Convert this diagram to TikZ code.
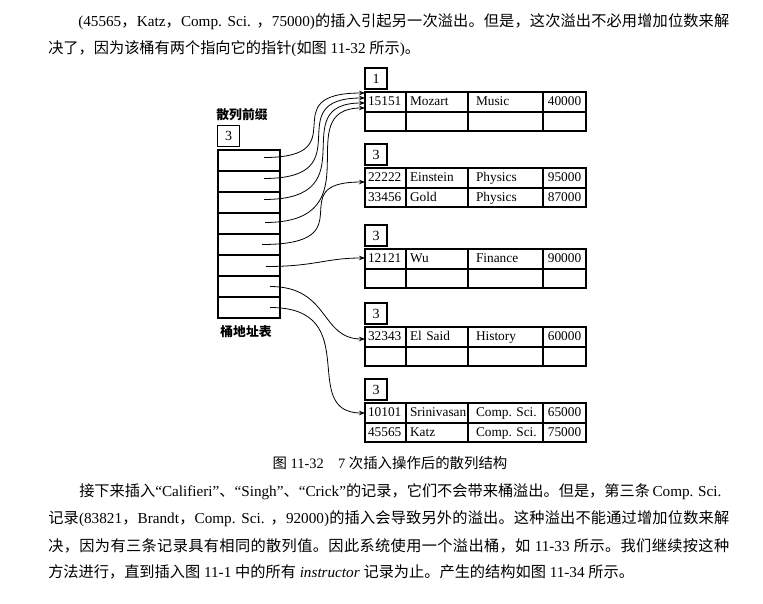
\documentclass[tikz,border=0pt]{standalone}
\usepackage{fontspec}
\setmainfont{Liberation Serif}
\newfontfamily\zhfont{Noto Sans CJK SC}
\newfontfamily\enfont{Liberation Serif}
\usetikzlibrary{
    arrows.meta,
    calc,
    positioning
}

% Chinese characters switch to their own font
\XeTeXinterchartokenstate=1
\newXeTeXintercharclass\zhclass
\count255="3000
\loop
    \XeTeXcharclass\count255=\zhclass
    \advance\count255 by 1
\ifnum\count255<"A000\repeat
\count255="FF00
\loop
    \XeTeXcharclass\count255=\zhclass
    \advance\count255 by 1
\ifnum\count255<"FFF0\repeat
\XeTeXinterchartoks 0 \zhclass={\hskip0pt plus 1pt\zhfont}
\XeTeXinterchartoks 4095 \zhclass={\zhfont}
\XeTeXinterchartoks \zhclass 0={\hskip0pt plus 1pt\enfont}
\XeTeXinterchartoks \zhclass 4095={\enfont}
\XeTeXinterchartoks \zhclass \zhclass={\hskip0pt plus 1pt}

\newlength\pxu
\setlength\pxu{0.75pt}
\newcommand\fullline[2]{\hbox to #1\pxu{#2}}

\tikzset{
    txt/.style={inner sep=0pt, anchor=west, font=\fontsize{11.4}{13}\selectfont},
    hdr/.style={inner sep=0pt, font=\fontsize{9.6}{11}\selectfont\bfseries},
    figcap/.style={inner sep=0pt, font=\fontsize{10.8}{13}\selectfont},
    depthbox/.style={draw, line width=0.8pt, outer sep=0pt, minimum width=22\pxu,
        minimum height=21\pxu, font=\fontsize{10.5}{12}\selectfont},
    slot/.style={draw, line width=0.8pt, outer sep=0pt, minimum width=62\pxu,
        minimum height=21\pxu},
    cell/.style={draw, line width=0.8pt, outer sep=0pt, inner ysep=0pt,
        minimum height=#1\pxu, text height=7.5pt, text depth=2pt,
        font=\fontsize{10}{12}\selectfont},
    ptr/.style={->, line width=0.6pt}
}

% one row of a bucket: name, row, top, height, four fields
\newcommand\record[8]{%
    \node[cell=#4, text width=35\pxu, inner xsep=3\pxu, align=left,
        anchor=north west] (#1-#2-1) at (365,#3) {\mbox{#5}};
    \node[cell=#4, text width=54\pxu, inner xsep=4\pxu, align=left,
        right=0pt of #1-#2-1] (#1-#2-2) {\mbox{#6}};
    \node[cell=#4, text width=63\pxu, inner xsep=6\pxu, align=left,
        right=0pt of #1-#2-2] (#1-#2-3) {\mbox{\hspace*{2\pxu}#7}};
    \node[cell=#4, text width=37\pxu, inner xsep=3\pxu, align=center,
        right=0pt of #1-#2-3] (#1-#2-4) {\mbox{#8}};
}

\begin{document}
\begin{tikzpicture}[x=0.75pt, y=-0.75pt, >={Stealth[length=4.5pt, width=3.4pt]}]
    \path[use as bounding box, fill=white] (0,0) rectangle (763,603);

    % text above
    \node[txt] (l1) at (78,22) {\fullline{651}{(45565，Katz，Comp. Sci. ，75000)的插入引起另一次溢出。但是，这次溢出不必用增加位数来解}};
    \node[txt] (l2) at (48,49) {决了，因为该桶有两个指向它的指针(如图 11-32 所示)。};

    % bucket address table
    \node[hdr] (pfxlbl) at (242,115) {散列前缀};
    \node[depthbox] (pfx) at (228.5,136) {3};
    \foreach \i in {1,...,8}
        \node[slot] (e\i) at (249,139.5+21*\i) {};
    \node[hdr] (tbllbl) at (246,332) {桶地址表};

    % buckets
    \record{b1}{1}{92}{20}{15151}{Mozart}{Music}{40000}
    \record{b1}{2}{112}{19}{}{}{}{}
    \record{b2}{1}{168}{20}{22222}{Einstein}{Physics}{95000}
    \record{b2}{2}{188}{19}{33456}{Gold}{Physics}{87000}
    \record{b3}{1}{249}{20}{12121}{Wu}{Finance}{90000}
    \record{b3}{2}{269}{19}{}{}{}{}
    \record{b4}{1}{327}{20}{32343}{El Said}{History}{60000}
    \record{b4}{2}{347}{19}{}{}{}{}
    \record{b5}{1}{403}{20}{10101}{Srinivasan}{Comp.\ Sci.}{65000}
    \record{b5}{2}{423}{19}{45565}{Katz}{Comp.\ Sci.}{75000}
    \node[depthbox, anchor=south west] (b1d) at ([yshift=3\pxu]b1-1-1.north west) {1};
    \node[depthbox, anchor=south west] (b2d) at ([yshift=3\pxu]b2-1-1.north west) {3};
    \node[depthbox, anchor=south west] (b3d) at ([yshift=3\pxu]b3-1-1.north west) {3};
    \node[depthbox, anchor=south west] (b4d) at ([yshift=3\pxu]b4-1-1.north west) {3};
    \node[depthbox, anchor=south west] (b5d) at ([yshift=3\pxu]b5-1-1.north west) {3};

    % pointers
    \draw[ptr] ([shift={(-16,-3)}]e1.east) .. controls +(95,0) and +(-95,0) .. ([yshift=9\pxu]b1-1-1.west);
    \draw[ptr] ([shift={(-16,-3)}]e2.east) .. controls +(101,0) and +(-89,0) .. ([yshift=4\pxu]b1-1-1.west);
    \draw[ptr] ([shift={(-16,-3)}]e3.east) .. controls +(107,0) and +(-83,0) .. ([yshift=-1\pxu]b1-1-1.west);
    \draw[ptr] ([shift={(-15,-1)}]e4.east) .. controls +(112,0) and +(-78,0) .. ([yshift=-6\pxu]b1-1-1.west);
    \draw[ptr] ([shift={(-18,0)}]e5.east) .. controls +(107,0) and +(-87,0) .. ([yshift=-4\pxu]b2-1-1.west);
    \draw[ptr] ([shift={(-14,1)}]e6.east) .. controls +(50,0) and +(-40,0) .. ([yshift=1\pxu]b3-1-1.west);
    \draw[ptr] ([shift={(-10,0)}]e7.east) .. controls +(60,0) and +(-45,0) .. ([yshift=-2\pxu]b4-1-1.west);
    \draw[ptr] ([shift={(-10,0)}]e8.east) .. controls +(96,0) and +(-68,0) .. (b5-1-1.west);

    % caption and text below
    \node[figcap] (fig) at (390,463) {图 11-32\quad 7 次插入操作后的散列结构};
    \node[txt] (l3) at (79,492) {\fullline{639}{接下来插入“Califieri”、“Singh”、“Crick”的记录，它们不会带来桶溢出。但是，第三条 Comp. Sci.}};
    \node[txt] (l4) at (48,519) {\fullline{681}{记录(83821，Brandt，Comp. Sci. ，92000)的插入会导致另外的溢出。这种溢出不能通过增加位数来解}};
    \node[txt] (l5) at (48,546) {\fullline{681}{决，因为有三条记录具有相同的散列值。因此系统使用一个溢出桶，如 11-33 所示。我们继续按这种}};
    \node[txt] (l6) at (48,572) {方法进行，直到插入图 11-1 中的所有 \textit{instructor} 记录为止。产生的结构如图 11-34 所示。};
\end{tikzpicture}
\end{document}
